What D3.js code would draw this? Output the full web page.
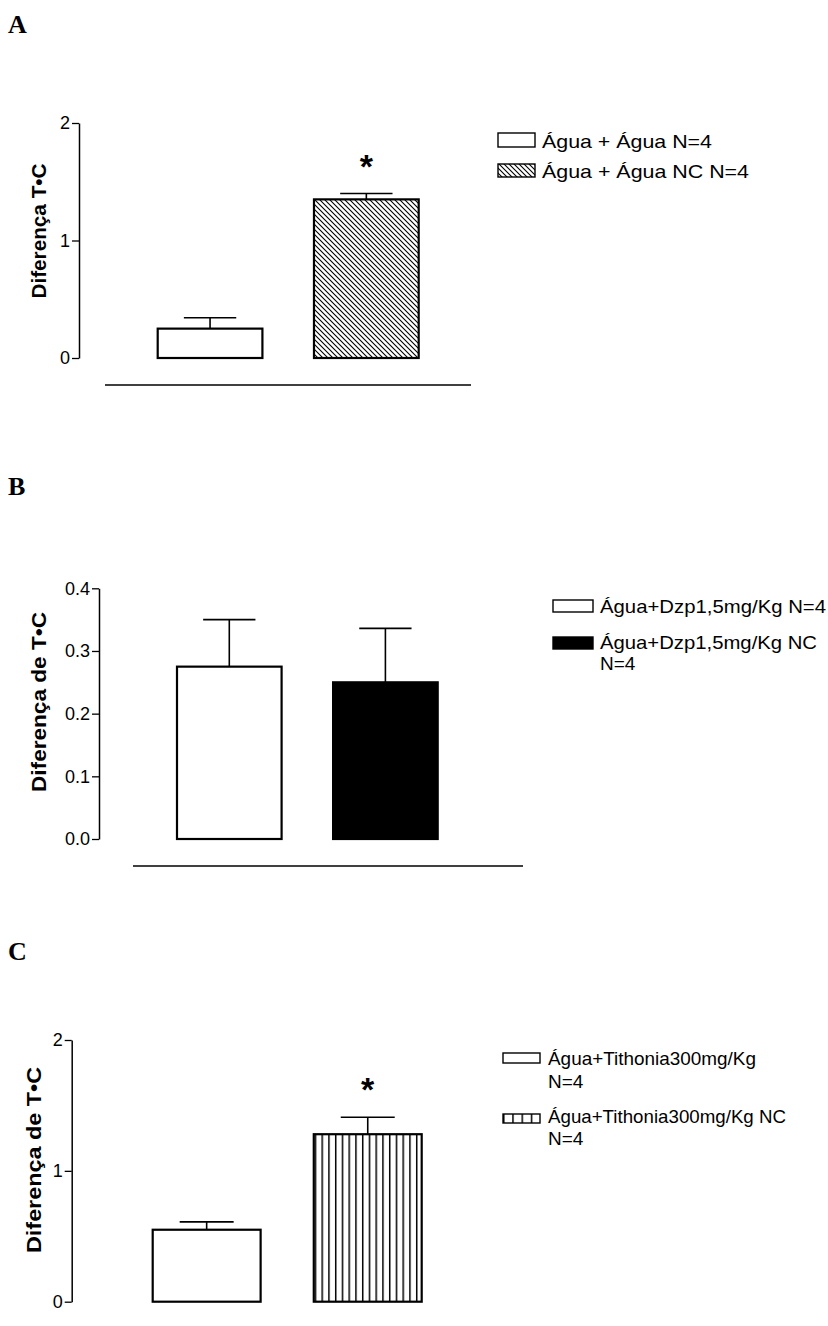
<!DOCTYPE html>
<html>
<head>
<meta charset="utf-8">
<script src="https://cdn.jsdelivr.net/npm/d3@7"></script>
<style>
html,body{margin:0;padding:0;background:#fff;}
svg{display:block;}
</style>
</head>
<body>
<script>
// ---------------- DATA ----------------
const panelLetters = ["A", "B", "C"];
const yLabels = ["Diferença T•C", "Diferença de T•C", "Diferença de T•C"];

const groupsA = ["Água + Água N=4", "Água + Água NC N=4"];
const meansA = [0.25, 1.35];
const semA = [0.093, 0.05];
const sigA = [false, true];
const ticksA = [0, 1, 2];
const legendA = [["Água + Água N=4"], ["Água + Água NC N=4"]];

const groupsB = ["Água+Dzp1,5mg/Kg N=4", "Água+Dzp1,5mg/Kg NC N=4"];
const meansB = [0.275, 0.25];
const semB = [0.075, 0.086];
const sigB = [false, false];
const ticksB = [0, 0.1, 0.2, 0.3, 0.4];
const legendB = [["Água+Dzp1,5mg/Kg N=4"], ["Água+Dzp1,5mg/Kg NC", "N=4"]];

const groupsC = ["Água+Tithonia300mg/Kg N=4", "Água+Tithonia300mg/Kg NC N=4"];
const meansC = [0.55, 1.28];
const semC = [0.06, 0.13];
const sigC = [false, true];
const ticksC = [0, 1, 2];
const legendC = [["Água+Tithonia300mg/Kg", "N=4"], ["Água+Tithonia300mg/Kg NC", "N=4"]];

// ---------------- LAYOUT ----------------
const W = 828, H = 1326;
const svg = d3.select("body").append("svg").attr("width", W).attr("height", H);
svg.append("rect").attr("width", W).attr("height", H).attr("fill", "#fff");

const defs = svg.append("defs");
// diagonal hatch (\\\)
const pd = defs.append("pattern").attr("id", "diag").attr("patternUnits", "userSpaceOnUse")
  .attr("width", 5).attr("height", 5);
pd.append("rect").attr("width", 5).attr("height", 5).attr("fill", "#fff");
pd.append("path").attr("d", "M0,0 L5,5 M-1,4 L1,6 M4,-1 L6,1")
  .attr("stroke", "#000").attr("stroke-width", 1.1);
// vertical stripes (bars)
const pv = defs.append("pattern").attr("id", "vert").attr("patternUnits", "userSpaceOnUse")
  .attr("width", 6.75).attr("height", 10).attr("x", 152.7);
pv.append("rect").attr("width", 6.75).attr("height", 10).attr("fill", "#fff");
pv.append("line").attr("x1", 0.75).attr("x2", 0.75).attr("y1", 0).attr("y2", 10)
  .attr("stroke", "#000").attr("stroke-width", 1.5);
// vertical stripes (legend)
const pvl = defs.append("pattern").attr("id", "vertL").attr("patternUnits", "userSpaceOnUse")
  .attr("width", 9.25).attr("height", 10).attr("x", 503);
pvl.append("rect").attr("width", 9.25).attr("height", 10).attr("fill", "#fff");
pvl.append("line").attr("x1", 0.75).attr("x2", 0.75).attr("y1", 0).attr("y2", 10)
  .attr("stroke", "#000").attr("stroke-width", 1.5);

const panels = [
  {
    letter: panelLetters[0], label: yLabels[0], groups: groupsA, means: meansA, sem: semA, sig: sigA,
    ticks: ticksA, fmt: d3.format("d"), legend: legendA, fills: ["#fff", "url(#diag)"], legendFills: ["#fff", "url(#diag)"],
    letterPos: [8, 33], axisX: 79, yTop: 123, y0: 358, barL: 157.7, barR: 418.7,
    baseLine: [105, 471, 385],
    labelPos: [46, 231], labelLen: 135, labelFs: 20,
    lgBoxX: 498, lgBoxW: 37, lgTextX: 542,
    lgRows: [{ boxY: 133, boxH: 14, textY: [148], len: [170] }, { boxY: 164, boxH: 13, textY: [178], len: [207] }]
  },
  {
    letter: panelLetters[1], label: yLabels[1], groups: groupsB, means: meansB, sem: semB, sig: sigB,
    ticks: ticksB, fmt: d3.format(".1f"), legend: legendB, fills: ["#fff", "#000"], legendFills: ["#fff", "#000"],
    letterPos: [8, 495], axisX: 99, yTop: 588.3, y0: 839, barL: 177, barR: 437.7,
    baseLine: [133, 523, 866],
    labelPos: [46, 702], labelLen: 180, labelFs: 21,
    lgBoxX: 553, lgBoxW: 40, lgTextX: 600,
    lgRows: [{ boxY: 600, boxH: 12, textY: [613], len: [226] }, { boxY: 637, boxH: 12, textY: [649, 670], len: [217, null] }]
  },
  {
    letter: panelLetters[2], label: yLabels[2], groups: groupsC, means: meansC, sem: semC, sig: sigC,
    ticks: ticksC, fmt: d3.format("d"), legend: legendC, fills: ["#fff", "url(#vert)"], legendFills: ["#fff", "url(#vertL)"],
    letterPos: [8, 960], axisX: 71.7, yTop: 1040, y0: 1301.7, barL: 152.7, barR: 421.7,
    baseLine: null,
    labelPos: [41, 1160], labelLen: 186, labelFs: 21,
    lgBoxX: 503, lgBoxW: 37, lgTextX: 548,
    lgRows: [{ boxY: 1053, boxH: 10, textY: [1065, 1088], len: [208, null] }, { boxY: 1114, boxH: 9, textY: [1123, 1145], len: [238, null] }]
  }
];

panels.forEach(p => {
  const g = svg.append("g");
  // panel letter
  g.append("text").attr("x", p.letterPos[0]).attr("y", p.letterPos[1])
    .attr("font-family", "Liberation Serif, Times New Roman, serif").attr("font-weight", "bold")
    .attr("font-size", 26).text(p.letter);

  const y = d3.scaleLinear().domain([p.ticks[0], p.ticks[p.ticks.length - 1]]).range([p.y0, p.yTop]);
  const x = d3.scaleBand().domain(p.groups).range([p.barL, p.barR]).paddingInner(0.33).paddingOuter(0);

  // axis
  const ax = g.append("g").attr("transform", `translate(${p.axisX},0)`)
    .call(d3.axisLeft(y).tickValues(p.ticks).tickFormat(p.fmt).tickSize(7).tickPadding(2).tickSizeOuter(0));
  ax.select(".domain").attr("stroke", "#000").attr("stroke-width", 1.5);
  ax.selectAll(".tick line").attr("stroke", "#000").attr("stroke-width", 1.3);
  ax.selectAll(".tick text").attr("font-family", "Liberation Sans, Arial, sans-serif")
    .attr("font-size", 18).attr("fill", "#000");

  // y label
  g.append("text").attr("transform", `translate(${p.labelPos[0]},${p.labelPos[1]}) rotate(-90)`)
    .attr("text-anchor", "middle").attr("font-family", "Liberation Sans, Arial, sans-serif")
    .attr("font-weight", "bold").attr("font-size", p.labelFs)
    .attr("textLength", p.labelLen).attr("lengthAdjust", "spacingAndGlyphs").text(p.label);

  // bars
  const bw = x.bandwidth();
  p.groups.forEach((grp, i) => {
    const cx = x(grp) + bw / 2;
    const top = y(p.means[i] + p.sem[i]);
    // error bar (upper only)
    g.append("line").attr("x1", cx).attr("x2", cx).attr("y1", y(p.means[i])).attr("y2", top)
      .attr("stroke", "#000").attr("stroke-width", 1.6);
    g.append("line").attr("x1", cx - bw / 4).attr("x2", cx + bw / 4).attr("y1", top).attr("y2", top)
      .attr("stroke", "#000").attr("stroke-width", 1.6);
    g.append("rect").attr("x", x(grp)).attr("y", y(p.means[i]))
      .attr("width", bw).attr("height", y(0) - y(p.means[i]))
      .attr("fill", p.fills[i]).attr("stroke", "#000").attr("stroke-width", 2.2);
    if (p.sig[i]) {
      g.append("text").attr("x", cx).attr("y", top - 35 + 19).attr("text-anchor", "middle")
        .attr("font-family", "Liberation Sans, Arial, sans-serif").attr("font-weight", "bold")
        .attr("font-size", 34).text("*");
    }
  });

  // baseline line under the graph
  if (p.baseLine) {
    g.append("line").attr("x1", p.baseLine[0]).attr("x2", p.baseLine[1])
      .attr("y1", p.baseLine[2]).attr("y2", p.baseLine[2]).attr("stroke", "#000").attr("stroke-width", 1.5);
  }

  // legend
  p.legend.forEach((lines, i) => {
    const r = p.lgRows[i];
    g.append("rect").attr("x", p.lgBoxX).attr("y", r.boxY).attr("width", p.lgBoxW).attr("height", r.boxH)
      .attr("fill", p.legendFills[i]).attr("stroke", "#000").attr("stroke-width", 1.4);
    lines.forEach((ln, j) => {
      const t = g.append("text").attr("x", p.lgTextX).attr("y", r.textY[j])
        .attr("font-family", "Liberation Sans, Arial, sans-serif").attr("font-size", 19).text(ln);
      if (r.len[j]) t.attr("textLength", r.len[j]).attr("lengthAdjust", "spacingAndGlyphs");
    });
  });
});
</script>
</body>
</html>
